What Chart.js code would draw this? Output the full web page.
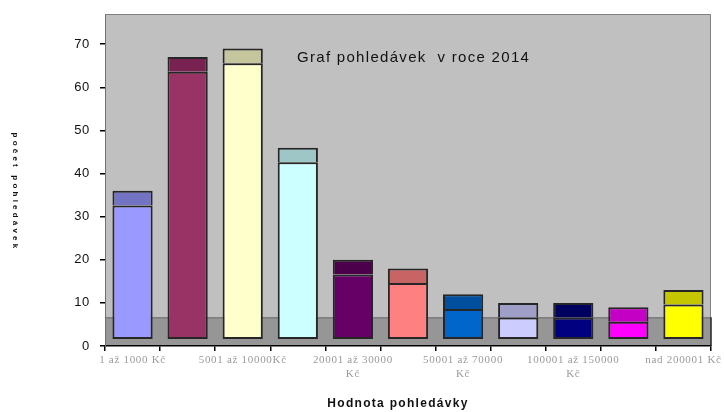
<!DOCTYPE html>
<html>
<head>
<meta charset="utf-8">
<script src="https://cdn.jsdelivr.net/npm/chart.js@4/dist/chart.umd.min.js"></script>
<style>
  html, body { margin: 0; padding: 0; background: #ffffff; }
  #wrap { width: 724px; height: 412px; }
</style>
</head>
<body>
<div id="wrap"><canvas id="c" width="724" height="412"></canvas></div>
<script>
// ---- data ----
const categories = [
  "1 až 1000 Kč", "1001 až 5000 Kč", "5001 až 10000Kč", "10001 až 20000 Kč",
  "20001 až 30000 Kč", "30001 až 50000 Kč", "50001 až 70000 Kč", "70001 až 100000 Kč",
  "100001 až 150000 Kč", "150001 až 200000 Kč", "nad 200001 Kč"
];
const tickLabels = [
  "1 až 1000 Kč", "", "5001 až 10000Kč", "", ["20001 až 30000", "Kč"], "",
  ["50001 až 70000", "Kč"], "", ["100001 až 150000", "Kč"], "", "nad 200001 Kč"
];
const values = [31, 62, 64, 41, 15, 13, 7, 5, 5, 4, 8];
const yTickValues = [0, 10, 20, 30, 40, 50, 60, 70];
const frontColors = ["#9999ff", "#993366", "#ffffcc", "#ccffff", "#660066", "#ff8080",
                     "#0066cc", "#ccccff", "#000080", "#ff00ff", "#ffff00"];
const capColors = ["#7373c4", "#772250", "#c6c69e", "#9ec6c6", "#4c004c", "#c86464",
                   "#004f9e", "#9e9ec6", "#000060", "#c400c4", "#c6c600"];
const chartTitle = "Graf pohledávek  v roce 2014";
const xTitle = "Hodnota pohledávky";
const yTitle = "počet pohledávek";

// ---- 3D look (style constants) ----
const FRONT_OFFSET = 1.6;
const CAP_DEPTH = 3.4;
const FLOOR_DEPTH = 6.65;

const frontData = values.map(v => [FRONT_OFFSET, v + FRONT_OFFSET]);
const capData = values.map(v => [v + FRONT_OFFSET, v + FRONT_OFFSET + CAP_DEPTH]);

const backdrop = {
  id: 'backdrop',
  beforeDraw(chart) {
    chart.ctx.letterSpacing = '0.7px';
  },
  beforeDatasetsDraw(chart) {
    const { ctx, chartArea: a, scales: { y } } = chart;
    ctx.letterSpacing = '0px';
    const fy = y.getPixelForValue(FLOOR_DEPTH);
    ctx.save();
    ctx.fillStyle = '#c0c0c0';
    ctx.fillRect(a.left + 1, a.top, a.right - a.left - 1, fy - a.top);
    ctx.fillStyle = '#969696';
    ctx.fillRect(a.left + 1, fy, a.right - a.left - 1, a.bottom - fy - 1);
    ctx.strokeStyle = '#808080';
    ctx.lineWidth = 1;
    ctx.beginPath();
    ctx.moveTo(a.left, a.top + 0.5);
    ctx.lineTo(a.right - 0.5, a.top + 0.5);
    ctx.lineTo(a.right - 0.5, fy);
    ctx.stroke();
    ctx.strokeStyle = '#666666';
    ctx.beginPath();
    ctx.moveTo(a.left, fy + 0.5);
    ctx.lineTo(a.right, fy + 0.5);
    ctx.stroke();
    ctx.strokeStyle = '#222222';
    ctx.lineWidth = 1.5;
    ctx.beginPath();
    ctx.moveTo(a.right, fy);
    ctx.lineTo(a.right, a.bottom);
    ctx.stroke();
    ctx.restore();
  },
  afterDraw(chart) {
    const { ctx } = chart;
    ctx.save();
    ctx.fillStyle = '#111111';
    ctx.textBaseline = 'middle';
    ctx.textAlign = 'left';
    ctx.font = '15px "Liberation Sans", Arial, sans-serif';
    ctx.letterSpacing = '1.3px';
    ctx.fillText(chartTitle, 297, 58);
    ctx.textAlign = 'center';
    ctx.font = 'bold 12px "Liberation Sans", Arial, sans-serif';
    ctx.letterSpacing = '1.3px';
    ctx.fillText(xTitle, 398, 404);
    ctx.translate(15, 192);
    ctx.rotate(Math.PI / 2);
    ctx.font = 'bold 8px "Liberation Sans", Arial, sans-serif';
    ctx.letterSpacing = '3.2px';
    ctx.fillText(yTitle, 0, 0);
    ctx.restore();
    ctx.letterSpacing = '0px';
  }
};

new Chart(document.getElementById('c'), {
  type: 'bar',
  data: {
    labels: categories,
    datasets: [
      { data: frontData, backgroundColor: frontColors, borderColor: '#262626',
        borderWidth: 2, borderSkipped: false, grouped: false,
        barPercentage: 0.73, categoryPercentage: 1 },
      { data: capData, backgroundColor: capColors, borderColor: '#262626',
        borderWidth: 2, borderSkipped: 'start', grouped: false,
        barPercentage: 0.73, categoryPercentage: 1 }
    ]
  },
  options: {
    responsive: false,
    animation: false,
    devicePixelRatio: 1,
    layout: { padding: { left: 0, top: 14, right: 13, bottom: 0 } },
    plugins: { legend: { display: false }, tooltip: { enabled: false }, title: { display: false } },
    scales: {
      x: {
        type: 'category',
        offset: true,
        afterFit(s) { s.height = 66; },
        grid: { offset: true, drawOnChartArea: false, drawTicks: true, tickLength: 5, color: '#000000', lineWidth: 1.5 },
        border: { display: true, color: '#000000', width: 1.5 },
        ticks: {
          autoSkip: false, maxRotation: 0, minRotation: 0, padding: 3,
          callback: (v, i) => tickLabels[i],
          color: '#9a9a9a',
          font: { family: '"Liberation Serif", "Times New Roman", serif', size: 11, lineHeight: 1.2 }
        }
      },
      y: {
        min: 0, max: 77,
        afterFit(s) { s.width = 105; s.paddingTop = 0; s.paddingBottom = 0; },
        afterBuildTicks(s) { s.ticks = yTickValues.map(v => ({ value: v })); },
        grid: { drawOnChartArea: false, drawTicks: true, tickLength: 5, color: '#000000', lineWidth: 1.5 },
        border: { display: true, color: '#707070', width: 1 },
        ticks: {
          padding: 10, color: '#111111',
          font: { family: '"Liberation Sans", Arial, sans-serif', size: 13 }
        }
      }
    }
  },
  plugins: [backdrop]
});
</script>
</body>
</html>
